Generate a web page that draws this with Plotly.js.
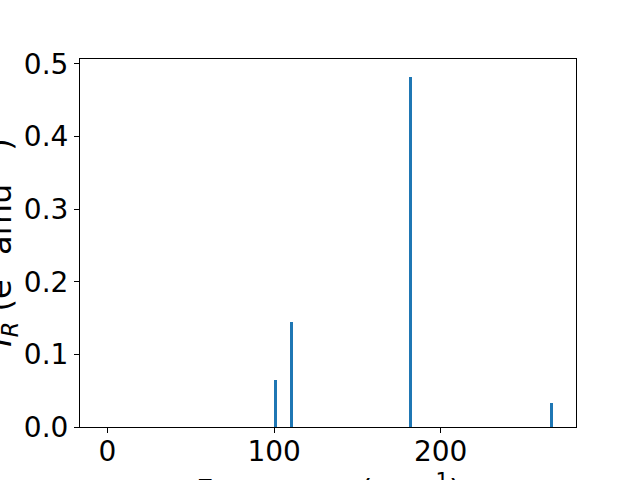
<!DOCTYPE html>
<html>
<head>
<meta charset="utf-8">
<script src="https://cdn.plot.ly/plotly-3.0.1.min.js"></script>
<style>html,body{margin:0;padding:0;background:#fff;}#chart{width:640px;height:480px;}</style>
</head>
<body>
<div id="chart"></div>
<script>
const frequencies = [100.7, 110.5, 181.7, 266.5];
const intensities = [0.065, 0.145, 0.482, 0.033];
const xTickVals = [0, 100, 200];
const yTickVals = [0.0, 0.1, 0.2, 0.3, 0.4, 0.5];
const xLabel = 'Frequency (cm<sup>−1</sup>)';
const yLabel = '<i>I</i><sub><i>R</i></sub> (e<sup>2</sup> amu<sup>−1</sup>)';

const font = {family: 'DejaVu Sans', size: 28, color: '#000'};
const xLabelFont = {family: 'DejaVu Sans', size: 30, color: '#000'};
const yLabelFont = {family: 'DejaVu Sans', size: 32, color: '#000'};
const trace = {
  type: 'bar',
  x: frequencies,
  y: intensities,
  width: 2,
  marker: {color: '#1f77b4', line: {width: 0}},
  hoverinfo: 'skip'
};
const axisCommon = {
  showline: true, mirror: true, linecolor: '#000', linewidth: 1,
  ticks: 'outside', ticklen: 5, tickwidth: 1, tickcolor: '#000',
  showgrid: false, zeroline: false, tickfont: font
};
const layout = {
  width: 640, height: 480,
  margin: {l: 80, r: 64, t: 59, b: 53},
  paper_bgcolor: '#fff', plot_bgcolor: '#fff',
  showlegend: false,
  bargap: 0,
  xaxis: Object.assign({}, axisCommon, {range: [-16.5, 281.2], tickvals: xTickVals, ticktext: xTickVals.map(String), ticklabelstandoff: -6}),
  yaxis: Object.assign({}, axisCommon, {range: [0, 0.5065], tickvals: yTickVals, ticktext: yTickVals.map(v => v.toFixed(1))}),
  annotations: [
    {text: xLabel, xref: 'paper', yref: 'paper', x: 0.5, y: -0.166, xanchor: 'center', yanchor: 'middle', showarrow: false, font: xLabelFont},
    {text: yLabel, xref: 'paper', yref: 'paper', x: -0.162, y: 0.5, xanchor: 'center', yanchor: 'middle', textangle: -90, showarrow: false, font: yLabelFont}
  ]
};
Plotly.newPlot('chart', [trace], layout, {staticPlot: true, displayModeBar: false});
</script>
</body>
</html>
